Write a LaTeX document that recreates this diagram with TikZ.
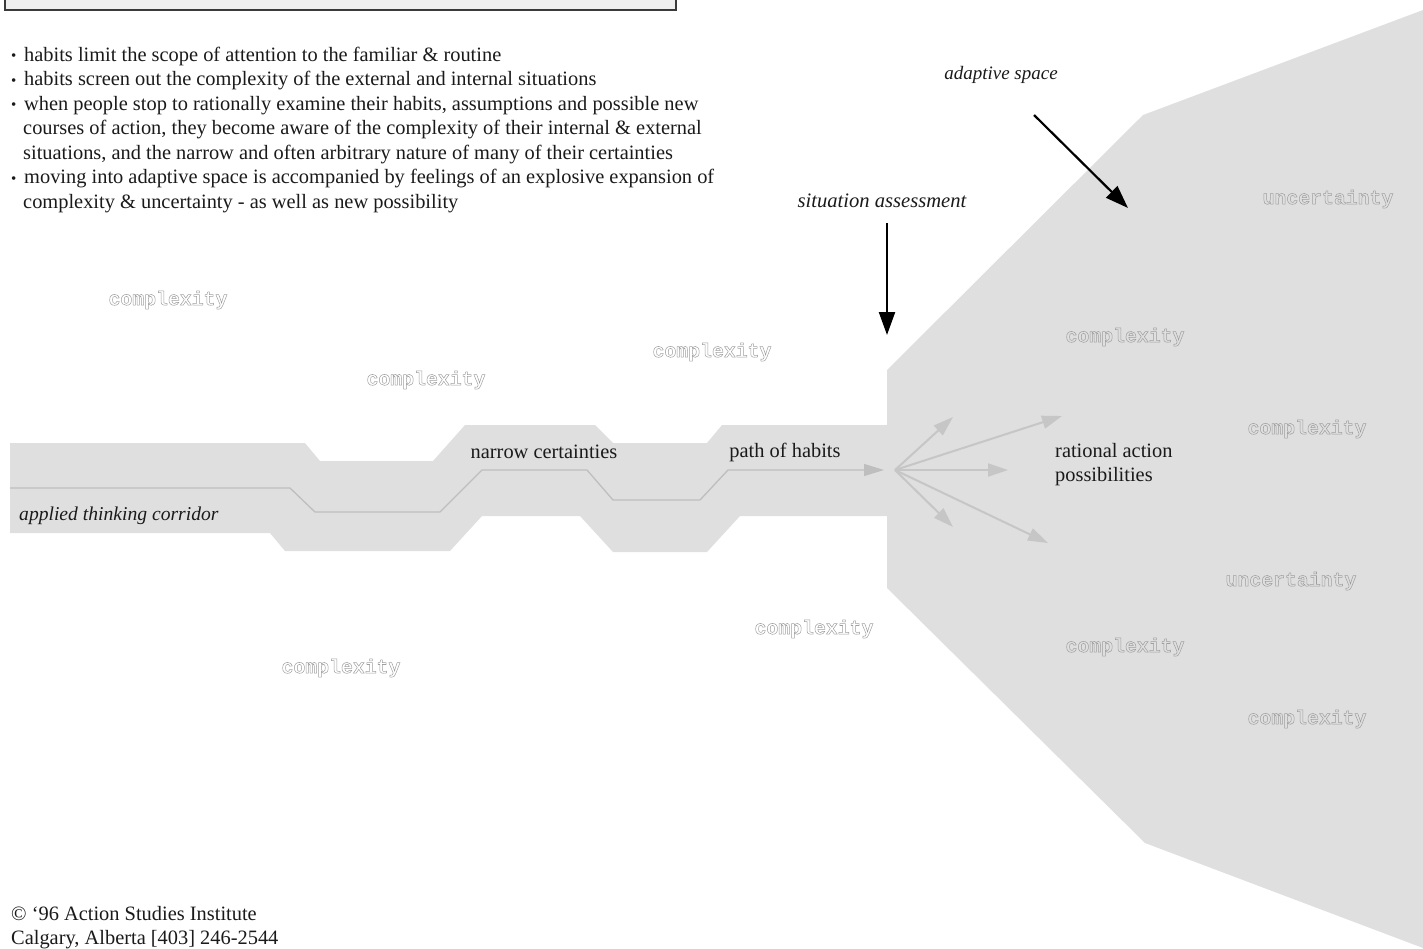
\documentclass[tikz,border=0pt]{standalone}
\usepackage{fontspec}
\setmainfont{Liberation Serif}
\newfontfamily\monoface{Liberation Mono}
\usetikzlibrary{arrows.meta}

\definecolor{spacegray}{HTML}{DFDFDF}
\definecolor{fangray}{HTML}{C6C6C6}
\definecolor{pathgray}{HTML}{BEBEBE}
\definecolor{wordgray}{HTML}{9E9E9E}
\definecolor{ink}{HTML}{1A1A1A}
\definecolor{boxfill}{HTML}{EFEFEF}
\definecolor{boxline}{HTML}{3A3A3A}

% hollow (stroked) letters for the background words
\newcommand\hollow[1]{\special{pdf:literal direct q 1 Tr 0.5 w}#1\special{pdf:literal direct Q}}

\tikzset{
  body/.style={font=\fontsize{20.4}{24}\selectfont, text=ink, inner sep=0pt},
  bodyit/.style={body, font=\fontsize{19.6}{24}\selectfont\itshape},
  bline/.style={body, anchor=base west},
  word/.style={font=\monoface\bfseries\fontsize{19.8}{19.8}\selectfont, text=wordgray, inner sep=0pt},
  fanarrow/.style={draw=fangray, line width=2pt, -{Triangle[length=20pt,width=13pt]}},
  pointer/.style={draw=black, line width=2.2pt, -{Triangle[length=23pt,width=16pt]}},
}
\newcommand\bul{\makebox[13pt][l]{\fontsize{15}{15}\selectfont\raisebox{0.5pt}{•}}}

\begin{document}
\begin{tikzpicture}[x=1pt,y=-1pt]
\useasboundingbox (0,0) rectangle (1423,948);

% title box (cut at the top edge)
\draw[fill=boxfill, draw=boxline, line width=1.6pt] (5,-20) rectangle (676,10);

% adaptive space
\fill[spacegray] (887,370) -- (1143,115) -- (1423,10) -- (1423,948) -- (1145,843)
  -- (887,588) -- cycle;

% applied thinking corridor
\fill[spacegray] (10,443) -- (305,443) -- (320,461) -- (433,461) -- (465,425)
  -- (595,425) -- (613,443) -- (707,443) -- (722,425) -- (888,425)
  -- (888,516) -- (740,516) -- (707,552) -- (613,552) -- (580,516)
  -- (482,516) -- (450,551) -- (285,551) -- (270,533) -- (10,533) -- cycle;

% path of habits
\coordinate (pathStart) at (10,488);
\coordinate (pathTip) at (884,470);
\draw[pathgray, line width=1.3pt, -{Triangle[length=20pt,width=12pt]}]
  (pathStart) -- (290,488) -- (315,512) -- (440,512) -- (482,470) -- (587,470)
  -- (613,500) -- (700,500) -- (728,470) -- (pathTip);

% fan of possibilities
\coordinate (fan) at (895,470);
\coordinate (f1) at (953,417);
\coordinate (f2) at (1062,416);
\coordinate (f3) at (1008,470);
\coordinate (f4) at (953,527);
\coordinate (f5) at (1048,543);
\foreach \t in {f1,f2,f3,f4,f5} \draw[fanarrow] (fan) -- (\t);

% pointers
\node[bodyit, font=\fontsize{20.6}{24}\selectfont\itshape] (sa) at (882,201) {situation assessment};
\coordinate (saTop) at (887,223);
\coordinate (saTip) at (887,335);
\draw[pointer] (saTop) -- (saTip);

\node[bodyit, font=\fontsize{19}{24}\selectfont\itshape] (as) at (1001,75) {adaptive space};
\coordinate (asTop) at (1034,115);
\coordinate (asTip) at (1128,208);
\draw[pointer] (asTop) -- (asTip);

% notes
\node[bline] (n1) at (11,61)    {\bul habits limit the scope of attention to the familiar \& routine};
\node[bline] (n2) at (11,85.5)  {\bul habits screen out the complexity of the external and internal situations};
\node[bline] (n3) at (11,110)   {\bul when people stop to rationally examine their habits, assumptions and possible new};
\node[bline] (n4) at (23,134.5) {courses of action, they become aware of the complexity of their internal \& external};
\node[bline] (n5) at (23,159)   {situations, and the narrow and often arbitrary nature of many of their certainties};
\node[bline] (n6) at (11,183.5) {\bul moving into adaptive space is accompanied by feelings of an explosive expansion of};
\node[bline] (n7) at (23,208)   {complexity \& uncertainty - as well as new possibility};

% corridor labels
\node[body] (nc) at (544,452) {narrow certainties};
\node[body] (ph) at (785,452) {path of habits};
\node[bodyit, anchor=west] (atc) at (19,516) {applied thinking corridor};
\node[body, anchor=west, align=left] (rap) at (1055,465) {rational action\\possibilities};

% background words
\node[word] (c1) at (168,300) {\hollow{complexity}};
\node[word] (c2) at (426,380) {\hollow{complexity}};
\node[word] (c3) at (712,352) {\hollow{complexity}};
\node[word] (c4) at (1125,337) {\hollow{complexity}};
\node[word] (c5) at (1307,429) {\hollow{complexity}};
\node[word] (c6) at (814,629) {\hollow{complexity}};
\node[word] (c7) at (341,668) {\hollow{complexity}};
\node[word] (c8) at (1125,647) {\hollow{complexity}};
\node[word] (c9) at (1307,719) {\hollow{complexity}};
\node[word] (u1) at (1328,199) {\hollow{uncertainty}};
\node[word] (u2) at (1291,581) {\hollow{uncertainty}};

% imprint
\node[bline] (cp1) at (11,920) {© ‘96 Action Studies Institute};
\node[bline] (cp2) at (11,944) {Calgary, Alberta [403] 246-2544};
\end{tikzpicture}
\end{document}
